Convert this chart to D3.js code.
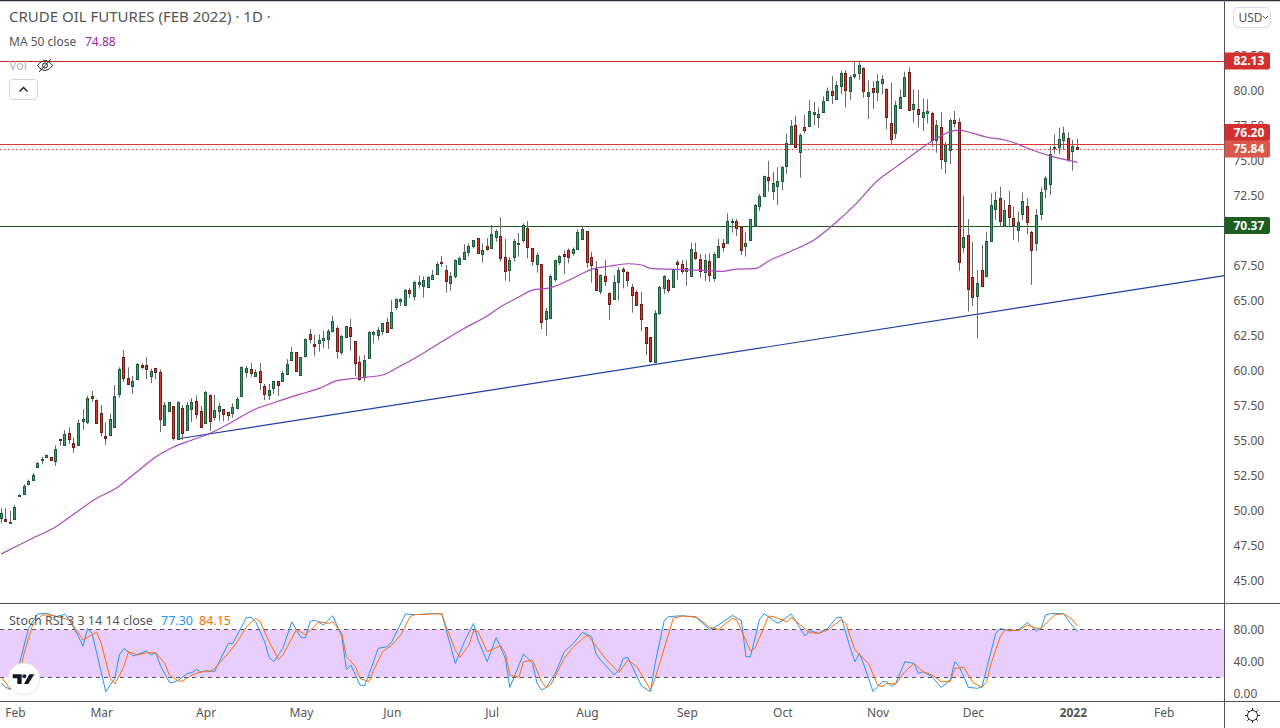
<!DOCTYPE html>
<html>
<head>
    <meta charset="utf-8">
    <style>
        html, body { margin: 0; padding: 0; background: #fff; overflow: hidden; }
        svg { display: block; }
        text { font-family: "Noto Sans", sans-serif; }
        .price-axis text, .time-axis text { font-size: 12px; fill: #555; }
        .tag text { font-size: 12px; font-weight: 700; fill: #fff; }
    </style>
</head>
<body>
    <script src="https://d3js.org/d3.v7.min.js"></script>
    <script>
        // Daily bars
        var opens = [
            49.50,49.40,49.14,49.38,51.07,51.17,51.93,52.21,53.10,53.64,
            53.81,53.81,53.52,55.12,54.71,55.57,54.81,54.67,56.43,56.36,
            58.17,57.88,56.95,55.31,55.43,56.00,58.36,60.95,59.45,58.93,
            59.38,60.40,60.38,59.64,60.17,59.88,56.14,57.14,57.45,55.10,
            57.31,55.79,57.29,57.81,57.10,56.29,58.24,56.69,57.14,57.24,
            57.02,57.00,57.36,58.21,59.90,60.10,59.64,59.95,58.88,58.26,
            58.79,59.24,59.29,59.79,60.76,61.31,59.69,61.07,62.60,61.88,
            61.98,62.22,62.26,62.84,63.02,61.36,62.43,63.10,62.10,60.60,
            59.57,60.93,62.62,62.57,62.86,63.46,63.07,64.57,65.00,64.72,
            65.76,65.36,66.22,66.07,66.00,66.53,66.88,67.77,67.17,66.24,
            66.74,67.60,68.00,68.50,68.93,69.46,68.36,68.88,68.74,69.58,
            69.60,68.10,67.22,68.15,69.08,69.31,70.17,68.74,67.65,67.60,
            63.72,63.79,66.58,67.79,68.31,68.60,68.41,68.67,69.43,69.96,
            68.10,67.24,65.72,66.74,65.53,65.10,66.36,67.24,67.03,65.96,
            65.60,64.74,63.10,62.38,60.65,64.15,65.93,66.46,66.00,67.77,
            67.60,67.15,66.79,68.45,67.96,67.07,67.81,66.65,68.10,69.10,
            69.15,70.62,70.67,70.26,68.93,69.36,70.43,71.79,72.50,73.81,
            72.86,73.22,73.57,74.65,76.19,77.53,75.65,77.38,77.50,78.36,
            78.15,78.45,79.36,80.00,79.43,80.36,81.24,80.00,81.07,81.24,
            81.60,79.65,80.17,79.93,80.53,80.12,77.67,77.00,78.79,79.65,
            81.31,78.69,78.67,78.14,78.43,78.38,76.50,77.38,75.00,75.74,
            77.88,77.74,68.86,69.67,66.67,65.36,67.19,66.76,69.24,71.57,
            72.31,70.43,71.81,70.88,70.07,71.22,71.76,69.91,69.14,71.22,
            73.00,73.31,75.93,76.00,76.50,76.60,75.67,75.95
        ];
        var highs = [
            50.17,50.17,49.98,50.40,51.17,51.90,52.24,52.71,53.48,53.86,
            54.02,53.86,54.67,55.12,55.76,55.95,55.24,56.52,57.26,58.19,
            58.55,57.95,57.55,56.31,56.95,58.98,60.24,61.48,60.24,59.62,
            60.55,60.52,60.95,60.14,60.17,60.10,57.76,57.79,57.45,57.81,
            57.55,57.76,58.05,58.24,57.48,58.55,58.31,58.26,57.71,57.24,
            57.02,57.67,58.12,60.31,60.33,60.55,60.10,60.55,59.05,59.05,
            59.26,59.26,59.98,60.83,61.69,61.31,60.95,62.31,62.98,62.55,
            62.60,62.84,62.98,63.91,63.19,62.55,63.17,63.69,62.10,61.05,
            61.12,62.84,62.84,63.10,63.43,63.79,65.05,65.17,65.17,65.84,
            65.88,66.41,66.79,66.74,66.77,67.19,67.79,68.19,67.55,67.05,
            67.96,68.15,69.03,69.10,69.34,69.46,69.10,69.46,70.41,70.10,
            70.96,69.41,68.12,69.41,69.82,70.53,70.69,68.74,68.43,67.60,
            64.48,66.88,67.93,68.26,68.58,68.74,68.81,70.10,70.29,69.96,
            68.48,67.84,66.88,67.91,65.60,66.84,67.38,67.38,67.12,66.19,
            65.76,65.62,63.10,62.38,64.33,66.05,66.83,66.55,67.31,67.91,
            67.91,67.86,69.15,69.15,68.33,68.31,68.38,68.45,69.41,69.41,
            71.24,70.88,70.86,70.29,69.88,70.81,71.91,72.60,73.93,74.98,
            74.22,74.53,74.62,76.95,77.91,78.22,76.95,78.26,79.33,79.19,
            78.81,79.60,80.24,81.05,80.69,81.43,81.48,81.12,82.12,82.07,
            81.67,80.72,80.69,81.19,81.12,80.17,80.57,79.26,80.10,81.36,
            81.67,80.10,80.05,79.45,79.38,78.50,77.91,78.45,76.36,78.03,
            78.55,78.03,72.50,70.83,69.22,67.19,68.98,69.93,72.67,72.79,
            73.14,72.19,72.83,71.72,71.36,72.72,72.31,70.00,71.55,73.10,
            73.91,76.07,76.88,77.36,77.43,77.03,76.48,76.55
        ];
        var lows = [
            49.14,49.28,49.14,49.38,51.07,51.14,51.86,52.19,53.07,53.31,
            53.74,53.57,53.21,54.62,54.67,54.76,54.14,54.62,55.76,56.19,
            57.79,56.24,55.29,54.71,55.40,55.98,58.07,59.21,59.02,58.33,
            59.33,60.12,59.40,59.12,59.40,55.62,56.05,57.12,55.00,55.07,
            55.05,55.76,56.33,56.55,55.95,56.24,55.69,56.43,56.43,56.38,
            56.43,56.64,57.33,58.19,59.52,59.57,59.57,58.62,57.90,57.90,
            58.33,58.19,59.26,59.69,60.71,59.93,59.64,60.93,61.95,61.07,
            61.36,61.60,61.55,62.74,60.86,61.14,62.41,61.43,59.62,59.29,
            59.22,60.93,61.96,62.19,62.53,62.76,63.05,64.34,64.62,64.69,
            65.17,65.05,65.86,65.22,65.96,66.48,66.84,67.43,65.58,65.72,
            66.60,67.55,67.91,68.15,68.74,68.38,67.72,68.58,68.69,69.22,
            67.79,66.43,66.36,67.79,68.15,69.15,68.03,67.50,67.00,62.98,
            62.50,63.74,66.36,67.55,66.91,67.67,68.22,68.62,69.38,67.36,
            66.29,65.69,65.46,66.05,63.65,65.05,65.00,65.88,66.00,64.15,
            64.72,62.83,61.12,60.57,60.65,63.98,65.48,65.57,65.96,66.48,
            66.91,66.05,66.79,67.91,66.62,66.41,66.34,66.36,68.07,68.50,
            69.15,69.86,69.62,68.26,68.15,69.33,70.29,71.41,72.48,72.79,
            72.24,71.84,72.91,74.05,76.17,75.93,73.79,76.95,77.48,77.55,
            77.36,78.43,79.34,79.05,79.41,79.74,78.79,79.34,80.84,80.76,
            79.50,77.98,78.69,79.26,79.74,77.26,76.19,76.55,78.76,79.62,
            78.62,77.72,77.36,77.12,77.67,76.00,75.57,74.41,74.05,74.76,
            77.38,67.14,68.43,64.22,64.62,62.29,66.00,66.67,69.22,70.76,
            70.29,70.24,70.29,69.33,69.22,70.76,69.74,66.12,68.55,70.76,
            72.31,72.55,75.52,75.48,75.76,74.93,74.29,75.76
        ];
        var closes = [
            49.81,49.28,49.19,50.24,51.12,51.74,52.12,52.52,53.38,53.69,
            53.95,53.64,54.38,55.07,55.45,55.14,54.57,56.24,56.52,58.02,
            58.07,56.29,55.64,55.21,56.52,58.17,60.10,59.50,59.07,59.24,
            60.45,60.29,60.12,59.95,59.93,56.57,57.52,57.74,55.21,57.76,
            55.57,57.52,57.74,56.93,56.00,58.48,56.43,57.17,57.48,56.93,
            56.86,57.38,57.95,60.24,60.17,59.86,59.88,59.21,58.36,58.60,
            59.24,58.98,59.81,60.45,61.31,60.00,60.95,62.24,62.27,61.79,
            62.17,62.31,62.84,63.55,61.38,62.48,63.17,62.50,60.57,59.43,
            60.74,62.74,62.76,62.88,63.38,62.79,64.17,65.10,65.10,65.76,
            65.57,66.31,66.31,66.46,66.67,66.81,67.60,67.72,66.43,66.74,
            67.88,68.03,68.46,68.88,69.31,68.43,68.60,68.72,69.74,69.96,
            68.07,67.15,67.88,69.24,69.12,70.38,68.86,67.86,68.24,63.50,
            64.24,66.74,67.93,68.17,68.22,68.15,68.67,69.88,70.10,67.79,
            67.53,65.79,66.81,66.43,64.79,66.31,67.17,67.15,66.50,65.43,
            64.72,63.72,62.00,60.71,64.10,65.96,66.74,65.79,67.24,67.65,
            67.15,67.31,68.67,68.07,67.15,67.91,66.86,68.31,68.88,68.86,
            70.67,70.67,70.17,68.60,69.10,70.81,71.81,72.45,73.88,73.65,
            73.38,73.53,74.55,76.24,77.45,76.00,76.81,77.22,78.53,78.48,
            78.31,79.24,79.95,79.72,80.38,81.24,80.07,80.95,81.19,81.81,
            80.00,79.88,79.93,80.67,80.81,78.14,76.53,78.95,79.53,81.00,
            78.64,79.03,78.36,78.48,78.53,76.50,77.53,75.15,76.10,77.88,
            77.72,67.79,69.57,65.81,65.29,66.24,66.07,69.24,71.81,72.19,
            70.71,71.45,71.00,70.43,70.60,72.10,70.64,68.60,71.12,72.74,
            73.74,75.50,76.00,76.53,76.95,75.15,76.03,75.81
        ];

        // MA 50 turning points (bar number, price)
        var maBars = [0,3,7,12,16,21,25,29,34,37,42,46,50,56,60,66,70,74,78,84,87,92,97,102,107,110,114,117,121,126,130,134,138,141,143,148,153,159,162,166,169,174,179,184,188,193,197,202,206,210,211,213,217,221,224,227,231,237];
        var maValues = [46.91,47.41,48.05,48.86,49.76,50.89,51.55,52.55,53.84,54.41,55.05,55.53,56.19,57.26,57.71,58.34,58.74,59.29,59.46,59.69,60.17,61.07,62.07,63.03,63.91,64.57,65.26,65.76,65.93,66.62,67.24,67.48,67.64,67.55,67.31,67.24,67.19,67.10,67.26,67.29,67.84,68.55,69.34,70.64,71.84,73.59,74.54,75.73,76.60,77.17,77.19,77.05,76.69,76.48,76.17,75.76,75.34,74.88];

        // Trend line end points
        var trendBars = [39, 269.4];
        var trendPrices = [55.14, 66.79];

        // Horizontal levels and their axis tags
        var levelPrices = [82.13, 76.20, 75.84, 70.37];
        var levelLabels = ["82.13", "76.20", "75.84", "70.37"];
        var levelColors = ["#c62828", "#e53935", "#e53935", "#1b5e20"];
        var levelDashes = [null, null, "1.5,2.5", null];
        var tagColors = ["#d32f2f", "#d32f2f", "#d9584a", "#1b5e20"];
        var tagShifts = [0, -11.5, 0, 0];

        // Stochastic RSI turning points
        var kBars = [0,1,2,4,6,8,10,12,14,15,17,18,19,20,23,25,26,27,29,32,33,34,35,37,38,39,41,42,43,44,45,47,48,50,51,54,55,56,58,59,60,62,64,65,66,67,68,69,71,73,75,76,77,79,80,82,83,85,86,89,91,95,97,100,102,104,105,107,109,111,112,115,117,118,119,120,122,124,126,128,130,131,132,135,136,137,138,141,143,144,146,147,150,153,156,157,159,161,163,164,165,167,168,171,174,177,178,180,182,184,185,187,188,189,190,192,194,195,196,197,199,201,202,203,205,207,209,210,211,213,215,216,219,220,222,224,226,228,229,230,231,234,235,237];
        var kValues = [12.4,7.4,5,37.4,81.2,99,100,95.8,98.7,91.6,70.8,59.1,81.2,75,2,18.7,47.9,56.2,46.6,52.9,47.9,50.8,35.3,13.7,13.7,16.6,24.9,25.8,30,26.2,28.3,27.4,39.5,62.4,62.4,94.9,94.9,89.5,64.5,44.9,39.5,56.2,89.5,79.1,69.5,69.5,89.5,91.6,85.4,97,70.8,30,35.3,10.4,9.1,39.5,56.2,58.3,64.5,99.1,98.3,99.5,99.5,37.4,64.5,87.4,66.6,39.5,69.9,43.7,7.4,49.1,37.4,12.4,4.1,7.4,24.9,52,62.4,76.2,70.8,49.1,41.6,22.9,29.1,43.7,44.9,9.1,2,37.4,90.8,95.8,97,94.9,79.9,82,89.5,97.4,90.8,45.8,45.8,92.4,99.5,87.4,99.1,71.6,78.3,74.9,81.2,94.9,94.9,56.2,39.5,49.9,35.3,2,14.5,14.5,9.1,12.4,39.5,37.4,24.9,27,20.8,7.4,16.6,39.5,33.3,7.4,6.2,8.3,74.9,81.2,77.9,79.1,88.7,77.9,81.2,97.9,99.5,99.5,90.8,77.3];
        var dBars = [0,2,4,5,7,9,11,13,15,16,18,21,22,24,25,27,28,30,32,34,36,37,39,40,42,44,46,47,50,52,54,56,57,59,61,62,64,65,67,70,72,73,75,76,78,79,81,82,84,86,88,90,91,95,97,98,100,101,103,104,105,107,110,111,112,114,115,117,119,120,121,124,126,129,130,133,136,138,140,143,144,148,150,153,156,158,161,162,165,166,169,170,173,174,178,180,182,185,186,188,191,193,194,195,197,199,201,203,205,207,209,210,212,214,216,217,218,220,221,224,226,228,229,232,234,236,237];
        var dValues = [20,5,22.9,50,87.4,97.8,97.8,94.9,91.6,83.3,66.6,76.6,62.4,18.7,11.6,33.3,52,47.9,50.8,50.8,37.4,22.9,15.3,15.3,22.9,27,27,31.2,50,64.5,83.3,93.7,89.5,64.5,42.4,47.9,68.7,79.9,72.9,89.5,87.4,89.5,74.9,45.8,33.3,18.7,14.5,29.1,52,60.3,72.9,95.8,98.3,99.1,99.5,83.3,54.1,44.9,60.3,78.3,77,52,59.5,49.9,22.9,19.9,39.5,41.6,14.5,7,10.4,43.7,58.3,72.9,66.6,43.7,25.8,41.6,33.3,4,18.7,93.7,96.6,95.8,82.4,79.9,93.7,91.6,52.8,56.2,96.6,95.8,89.5,94.9,75.8,74.9,79.1,92.4,87.4,54.1,37.4,10.4,8.3,12.4,11.6,27,37.4,27,22.9,14.5,14.5,31.2,32.4,13.3,7.4,14.5,37.4,70.8,79.1,78.3,85.4,81.2,81.2,97.9,99.5,91.6,84.15];

        // Axis ticks (70.00 sits fully behind its tag in the reference)
        var priceTicks = [45, 47.5, 50, 52.5, 55, 57.5, 60, 62.5, 65, 67.5, 72.5, 75, 77.5, 80, 82.5];
        var stochTicks = [0, 40, 80];
        var monthBars = [3, 22, 45, 66, 86, 108, 129, 151, 172, 193, 214, 236, 256];
        var monthLabels = ["Feb", "Mar", "Apr", "May", "Jun", "Jul", "Aug", "Sep", "Oct", "Nov", "Dec", "2022", "Feb"];

        var width = 1280, height = 728, axisX = 1224.5;

        var svg = d3.select("body").append("svg")
            .attr("width", width)
            .attr("height", height);

        // Scales
        var x = d3.scaleLinear().domain([0, 269.4]).range([1.3, axisX]);
        var y = d3.scaleLinear().domain([45, 80]).range([580.7, 90.7]);
        var yStoch = d3.scaleLinear().domain([0, 80]).range([693.3, 629.3]);

        // Horizontal levels
        svg.selectAll(".level")
            .data(levelPrices)
            .enter().append("line")
            .attr("class", "level")
            .attr("x1", 0)
            .attr("x2", axisX)
            .attr("y1", function (d) { return Math.round(y(d)) + 0.5; })
            .attr("y2", function (d) { return Math.round(y(d)) + 0.5; })
            .attr("stroke", function (d, i) { return levelColors[i]; })
            .attr("stroke-dasharray", function (d, i) { return levelDashes[i]; })
            .attr("stroke-width", 1);

        // Trend line
        svg.append("line")
            .attr("x1", x(trendBars[0]))
            .attr("y1", y(trendPrices[0]))
            .attr("x2", x(trendBars[1]))
            .attr("y2", y(trendPrices[1]))
            .attr("stroke", "#1c3fa8")
            .attr("stroke-width", 1.2);

        // Candles
        var bars = svg.append("g").selectAll("g")
            .data(d3.range(opens.length))
            .enter().append("g");

        function barX(i) { return Math.floor(x(i)) + 0.5; }

        bars.append("line")
            .attr("x1", barX)
            .attr("x2", barX)
            .attr("y1", function (i) { return y(highs[i]); })
            .attr("y2", function (i) { return y(lows[i]); })
            .attr("stroke", "#6a6a6a")
            .attr("stroke-width", 1);

        bars.append("rect")
            .attr("x", function (i) { return barX(i) - 1; })
            .attr("width", 2)
            .attr("y", function (i) { return Math.round(y(Math.max(opens[i], closes[i]))) + 0.5; })
            .attr("height", function (i) {
                return Math.max(1, Math.round(y(Math.min(opens[i], closes[i]))) - Math.round(y(Math.max(opens[i], closes[i]))));
            })
            .attr("fill", function (i) { return closes[i] >= opens[i] ? "#3f9a6e" : "#e0392b"; })
            .attr("stroke", function (i) { return closes[i] >= opens[i] ? "#1d5a3c" : "#6f1a12"; })
            .attr("stroke-width", 1);

        // MA 50
        var maLine = d3.line()
            .x(function (d) { return x(d); })
            .y(function (d, i) { return y(maValues[i]); })
            .curve(d3.curveMonotoneX);

        svg.append("path")
            .attr("d", maLine(maBars))
            .attr("fill", "none")
            .attr("stroke", "#ab47bc")
            .attr("stroke-width", 1.2);

        // Stoch RSI pane
        svg.append("rect")
            .attr("x", 0)
            .attr("width", axisX)
            .attr("y", yStoch(80))
            .attr("height", yStoch(20) - yStoch(80))
            .attr("fill", "#e9cefd");

        svg.selectAll(".band")
            .data([80, 20])
            .enter().append("line")
            .attr("class", "band")
            .attr("x1", 0)
            .attr("x2", axisX)
            .attr("y1", function (d) { return Math.round(yStoch(d)) + 0.5; })
            .attr("y2", function (d) { return Math.round(yStoch(d)) + 0.5; })
            .attr("stroke", "#555")
            .attr("stroke-dasharray", "4,4");

        var dLine = d3.line()
            .x(function (d) { return x(d); })
            .y(function (d, i) { return yStoch(dValues[i]); });
        var kLine = d3.line()
            .x(function (d) { return x(d); })
            .y(function (d, i) { return yStoch(kValues[i]); });

        svg.append("path")
            .attr("d", kLine(kBars))
            .attr("fill", "none")
            .attr("stroke", "#2196f3")
            .attr("stroke-width", 1);

        svg.append("path")
            .attr("d", dLine(dBars))
            .attr("fill", "none")
            .attr("stroke", "#ff6d00")
            .attr("stroke-width", 1);

        // Frame
        var frame = "#50535e";
        svg.append("line").attr("x1", 0).attr("x2", width).attr("y1", 0.5).attr("y2", 0.5)
            .attr("stroke", "#2a2e39").attr("stroke-width", 1.5);
        svg.selectAll(".sep")
            .data([603.5, 701.5])
            .enter().append("line")
            .attr("class", "sep")
            .attr("x1", 0)
            .attr("x2", width)
            .attr("y1", function (d) { return d; })
            .attr("y2", function (d) { return d; })
            .attr("stroke", frame);
        svg.append("line").attr("x1", axisX).attr("x2", axisX).attr("y1", 0).attr("y2", height)
            .attr("stroke", frame);

        // Axes
        var priceAxis = d3.axisRight(y)
            .tickValues(priceTicks)
            .tickSize(0)
            .tickPadding(9)
            .tickFormat(d3.format(".2f"));
        var priceG = svg.append("g")
            .attr("class", "price-axis")
            .attr("transform", "translate(" + axisX + ",0)")
            .call(priceAxis);
        priceG.select(".domain").remove();

        var stochAxis = d3.axisRight(yStoch)
            .tickValues(stochTicks)
            .tickSize(0)
            .tickPadding(9)
            .tickFormat(d3.format(".2f"));
        var stochG = svg.append("g")
            .attr("class", "price-axis")
            .attr("transform", "translate(" + axisX + ",0)")
            .call(stochAxis);
        stochG.select(".domain").remove();

        var timeAxis = d3.axisBottom(x)
            .tickValues(monthBars)
            .tickSize(0)
            .tickPadding(7)
            .tickFormat(function (d, i) { return monthLabels[i]; });
        var timeG = svg.append("g")
            .attr("class", "time-axis")
            .attr("transform", "translate(0,701)")
            .call(timeAxis);
        timeG.select(".domain").remove();
        timeG.selectAll("text")
            .style("font-weight", function (d, i) { return monthLabels[i] == "2022" ? 700 : 400; });

        // Axis tags
        var tags = svg.selectAll(".tag")
            .data(levelPrices)
            .enter().append("g")
            .attr("class", "tag")
            .attr("transform", function (d, i) {
                return "translate(" + axisX + "," + (y(d) + tagShifts[i]) + ")";
            });
        tags.append("path")
            .attr("d", "M0,-8.5H43.5a2,2 0 0 1 2,2V6.5a2,2 0 0 1 -2,2H0Z")
            .attr("fill", function (d, i) { return tagColors[i]; });
        tags.append("text")
            .attr("x", 9)
            .attr("dy", "0.36em")
            .text(function (d, i) { return levelLabels[i]; });

        // Legends
        var titleG = svg.append("g");
        titleG.append("text").attr("x", 9).attr("y", 22)
            .attr("font-size", 15).attr("fill", "#555")
            .text("CRUDE OIL FUTURES (FEB 2022) · 1D ·");
        titleG.append("text").attr("x", 9).attr("y", 46)
            .attr("font-size", 12).attr("fill", "#555")
            .text("MA 50 close");
        titleG.append("text").attr("x", 85).attr("y", 46)
            .attr("font-size", 12).attr("fill", "#9c27b0")
            .text("74.88");
        titleG.append("text").attr("x", 9).attr("y", 70)
            .attr("font-size", 12.5).attr("fill", "#b2b5be")
            .text("Vol");

        // Hidden volume eye
        var eye = svg.append("g")
            .attr("fill", "none")
            .attr("stroke", "#222")
            .attr("stroke-width", 1);
        eye.append("path").attr("d", "M37.5,65.5C42,59 48,59 52.5,65.5C48,72 42,72 37.5,65.5Z");
        eye.append("circle").attr("cx", 45).attr("cy", 65.5).attr("r", 2.5);
        eye.append("line").attr("x1", 39).attr("y1", 72).attr("x2", 51).attr("y2", 59);

        // Collapse button
        svg.append("rect")
            .attr("x", 9.5).attr("y", 79.5).attr("width", 28).attr("height", 20).attr("rx", 3)
            .attr("fill", "#fff").attr("stroke", "#d1d4dc");
        svg.append("path")
            .attr("d", "M19.5,91.5L23.5,87.5L27.5,91.5")
            .attr("fill", "none").attr("stroke", "#222").attr("stroke-width", 1.5);

        // Stoch legend
        svg.append("text").attr("x", 9).attr("y", 625)
            .attr("font-size", 12.5).attr("fill", "#555")
            .text("Stoch RSI 3 3 14 14 close");
        svg.append("text").attr("x", 161).attr("y", 625)
            .attr("font-size", 12.5).attr("fill", "#2196f3")
            .text("77.30");
        svg.append("text").attr("x", 199).attr("y", 625)
            .attr("font-size", 12.5).attr("fill", "#ff6d00")
            .text("84.15");

        // Currency button
        svg.append("rect")
            .attr("x", 1233.5).attr("y", 7.5).attr("width", 37).attr("height", 20).attr("rx", 5)
            .attr("fill", "#fff").attr("stroke", "#d8dae3");
        svg.append("text").attr("x", 1238.5).attr("y", 22)
            .attr("font-size", 12).attr("fill", "#555")
            .text("USD");
        svg.append("path")
            .attr("d", "M1263,16L1265.5,18.5L1268,16")
            .attr("fill", "none").attr("stroke", "#555").attr("stroke-width", 1);

        // Logo badge
        svg.append("circle")
            .attr("cx", 24).attr("cy", 679).attr("r", 16)
            .attr("fill", "#fff").attr("stroke", "#e6e6ea");
        svg.append("path")
            .attr("d", "M12.7,674.3H21.7V684H17.3V678.3H12.7ZM29.3,674.3H34.3L28.3,684H24Z")
            .attr("fill", "#131722");
        svg.append("circle")
            .attr("cx", 24.3).attr("cy", 676.3).attr("r", 2)
            .attr("fill", "#131722");

        // Settings gear
        var gear = svg.append("g")
            .attr("transform", "translate(1252.5,715.5)")
            .attr("fill", "none")
            .attr("stroke", "#222");
        gear.append("circle").attr("r", 5);
        gear.selectAll("line")
            .data(d3.range(8))
            .enter().append("line")
            .attr("x1", function (d) { return 5 * Math.cos(d * Math.PI / 4); })
            .attr("y1", function (d) { return 5 * Math.sin(d * Math.PI / 4); })
            .attr("x2", function (d) { return 7.5 * Math.cos(d * Math.PI / 4); })
            .attr("y2", function (d) { return 7.5 * Math.sin(d * Math.PI / 4); });
    </script>
</body>
</html>
